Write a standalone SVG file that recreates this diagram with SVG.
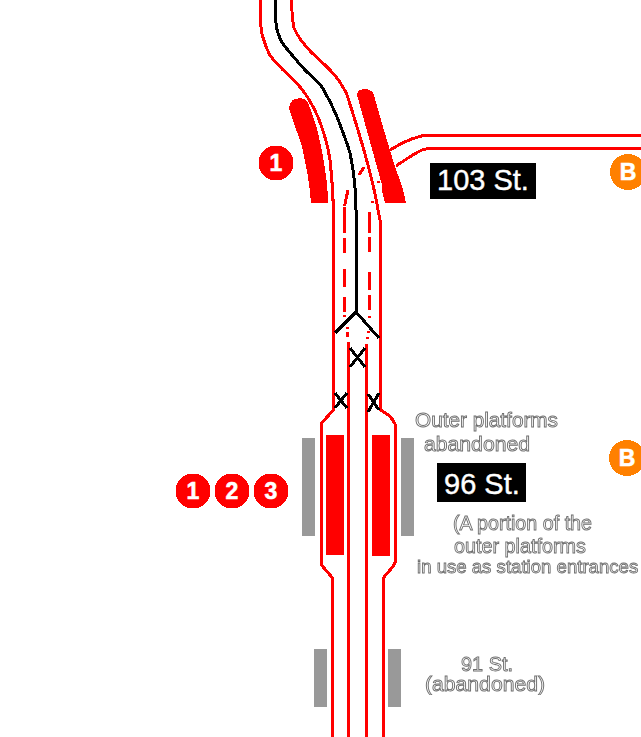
<svg xmlns="http://www.w3.org/2000/svg" width="641" height="737" viewBox="0 0 641 737">
<defs>
<filter id="gray" x="0" y="0" width="100%" height="100%"><feOffset dx="0" dy="0"/></filter>
</defs>
<style>
.r{fill:none;stroke:#f00;stroke-width:3;shape-rendering:crispEdges}
.d{fill:none;stroke:#f00;stroke-width:3;shape-rendering:crispEdges}
.k{fill:none;stroke:#000;stroke-width:3;shape-rendering:crispEdges}
.g{fill:#999}
.p{fill:#f00;shape-rendering:crispEdges}
.box{fill:#000}
.st{font-family:"Liberation Sans",Arial,sans-serif;font-size:29px;fill:#fff;stroke:#fff;stroke-width:.4}
.n{font-family:"Liberation Sans",Arial,sans-serif;font-size:23px;font-weight:bold;fill:#fff;text-anchor:middle;stroke:#fff;stroke-width:.6}
.t{font-family:"Liberation Sans",Arial,sans-serif;font-size:20px;fill:#fff;stroke:#6e6e6e;stroke-width:.9}
</style>
<rect width="641" height="737" fill="#fff"/>
<g id="connectors">
<path class="r" d="M260 0C260 14 260 25 262 34C265 44 267 52 272 58C280 68 292 78 300 87C308 96 313 106 318 117C324 132 328 146 330 160C332 178 333 195 333.500 210V410L321.500 423V565L332.500 578V737"/>
<path class="r" d="M291.500 0C292 12 292 20 294 28C298 37 304 45 312 53C322 62 331 70 337 78C342 85 345 90 347 95C353 113 358 130 363 147C369 168 375 190 378 210L380.500 222V410C388 414 392 417 395.500 425V562C392 570 387 572 383.500 578V737"/>
<path class="r" d="M348.500 342V737"/>
<path class="r" d="M366.500 344V737"/>
<path class="r" d="M390 150C400 144 410 139 418 137Q423 135 430 135H641"/>
<path class="r" d="M396 166C405 160 415 153 422 150Q428 148 434 148H641"/>
<path class="k" d="M275 0C275 14 275 25 278 33C280 39 283 45 287 49C293 56 300 65 307 72C313 77 318 82 322 87C328 97 333 107 337 117C342 130 347 142 350 153C354 172 356 190 356 210V312"/>
<path class="k" d="M335 333L356 312L379 338"/>
<path class="k" d="M350 348L365 367M365 348L350 367"/>
<path class="k" d="M335 393L347 408M347 393L335 408"/>
<path class="k" d="M368 412L379 393M368 394L379 410"/>
<path class="d" d="M364 167L359 175M348 190L344.500 206M344.500 207V233M344.500 238V253M344.500 269V287M344.500 297V312M344.500 315V317M347.500 327V329M347.500 332V337"/>
<path class="d" d="M378 181V183M372 201V203M370 212L369.500 233M369.500 237V252M369.500 272V290M369.500 295V310M369.500 316V318M368.500 331V333M367.500 337V339"/>
</g>
<g id="platforms-103">
<path class="p" d="M289 108C289 96 306 96 308 103C312 113 316 124 318 133C322 150 328 180 328 203H311C310 185 306 165 302 147C298 133 292 120 289 108Z"/>
<path class="p" d="M357 95C357 87 372 87 374 95C380 118 388 143 395 167C400 180 404 190 406 203H385C383 195 381 190 382 185C374 155 365 125 357 95Z"/>
</g>
<g id="platforms-96">
<rect class="p" x="326" y="435" width="18" height="120"/>
<rect class="p" x="372" y="435" width="18" height="121"/>
<rect class="g" x="302" y="438" width="13" height="98"/>
<rect class="g" x="401" y="438" width="13" height="98"/>
</g>
<g id="platforms-91">
<rect class="g" x="314" y="649" width="13" height="58"/>
<rect class="g" x="388" y="649" width="13" height="58"/>
</g>
<g id="bullet-1-103"><circle class="p" cx="276" cy="163" r="17.500"/><text class="n" x="276" y="171">1</text></g>
<g id="bullet-1-96"><circle class="p" cx="193" cy="491" r="17.500"/><text class="n" x="193" y="499">1</text></g>
<g id="bullet-2-96"><circle class="p" cx="232" cy="491" r="17.500"/><text class="n" x="232" y="499">2</text></g>
<g id="bullet-3-96"><circle class="p" cx="271" cy="491" r="17.500"/><text class="n" x="271" y="499">3</text></g>
<g id="bullet-b-103"><circle cx="628" cy="172" r="18" fill="#ff8000" shape-rendering="crispEdges"/><text class="n" x="628" y="180">B</text></g>
<g id="bullet-b-96"><circle cx="627" cy="458" r="18" fill="#ff8000" shape-rendering="crispEdges"/><text class="n" x="627" y="466">B</text></g>
<g id="label-103"><rect class="box" x="430" y="163" width="106" height="36"/><text class="st" x="437" y="190">103 St.</text></g>
<g id="label-96"><rect class="box" x="437" y="463" width="89" height="39"/><text class="st" x="444" y="494">96 St.</text></g>
<g id="notes" filter="url(#gray)">
<text class="t" x="415" y="427" textLength="143" lengthAdjust="spacingAndGlyphs">Outer platforms</text>
<text class="t" x="424" y="451" textLength="106" lengthAdjust="spacingAndGlyphs">abandoned</text>
<text class="t" x="453" y="530" textLength="139" lengthAdjust="spacingAndGlyphs">(A portion of the</text>
<text class="t" x="454" y="553" textLength="132" lengthAdjust="spacingAndGlyphs">outer  platforms</text>
<text class="t" x="417" y="573" style="font-size:18.600px">in use as station entrances</text>
<text class="t" x="461" y="671" textLength="52" lengthAdjust="spacingAndGlyphs">91 St.</text>
<text class="t" x="425" y="691" textLength="120" lengthAdjust="spacingAndGlyphs">(abandoned)</text>
</g>
</svg>
